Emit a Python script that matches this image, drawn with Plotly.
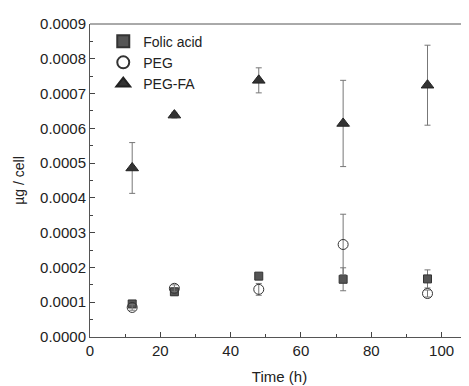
import plotly.graph_objects as go

time_h = [12, 24, 48, 72, 96]
folic_acid = [0.000095, 0.000130, 0.000175, 0.000166, 0.000167]
folic_err = [0.000008, 0.000010, 0.000008, 0.000033, 0.000026]
peg = [0.000085, 0.000140, 0.000137, 0.000266, 0.000125]
peg_err = [0.000008, 0.000010, 0.000017, 0.000087, 0.000010]
peg_fa = [0.000486, 0.000638, 0.000738, 0.000614, 0.000724]
peg_fa_err = [0.000073, 0.000008, 0.000036, 0.000124, 0.000115]

font = "Liberation Sans, Arial, sans-serif"
errstyle = dict(type="data", thickness=1, width=3, color="#777777")

fig = go.Figure()
fig.add_trace(go.Scatter(
    x=time_h, y=folic_acid, mode="markers", name="Folic acid",
    error_y=dict(array=folic_err, **errstyle),
    marker=dict(symbol="square", size=8, color="#555555",
                line=dict(color="#333333", width=1))))
fig.add_trace(go.Scatter(
    x=time_h, y=peg, mode="markers", name="PEG",
    error_y=dict(array=peg_err, **errstyle),
    marker=dict(symbol="circle-open", size=10, color="#333333",
                line=dict(color="#333333", width=1))))
fig.add_trace(go.Scatter(
    x=time_h, y=peg_fa, mode="markers", name="PEG-FA",
    error_y=dict(array=peg_fa_err, **errstyle),
    marker=dict(symbol="triangle-up", size=11, color="#333333",
                line=dict(color="#222222", width=1))))

# page body has an 8px default margin, so figure is sized/offset to fit the window
fig.update_layout(
    width=461, height=378,
    margin=dict(l=82, r=0, t=16, b=49),
    plot_bgcolor="white", paper_bgcolor="white",
    font=dict(family=font, size=15, color="#222222"),
    showlegend=True,
    legend=dict(x=0.035, y=0.995, xanchor="left", yanchor="top",
                bgcolor="rgba(0,0,0,0)", font=dict(size=14),
                itemsizing="constant", tracegroupgap=0),
    xaxis=dict(range=[0, 107.8], tickvals=[0, 20, 40, 60, 80, 100],
               ticks="inside", ticklen=5, tickcolor="#444",
               minor=dict(ticks="inside", ticklen=3, dtick=10, tickcolor="#444"),
               showline=True, linecolor="#555", linewidth=1,
               showgrid=False, zeroline=False,
               title=dict(text="Time (h)", standoff=13, font=dict(size=15)),
               tickfont=dict(size=15)),
    yaxis=dict(range=[0, 0.0009], tickvals=[i * 0.0001 for i in range(10)],
               tickformat=".4f",
               ticks="inside", ticklen=5, tickcolor="#444",
               minor=dict(ticks="inside", ticklen=3, dtick=0.00005, tickcolor="#444"),
               showline=True, linecolor="#555", linewidth=1,
               showgrid=False, zeroline=False,
               title=dict(text="µg / cell", standoff=12, font=dict(size=14)),
               tickfont=dict(size=15)),
)
fig.add_shape(type="line", xref="paper", yref="paper", x0=0, x1=1, y0=1, y1=1,
              line=dict(color="#555", width=1))

fig.write_html("out.html")
